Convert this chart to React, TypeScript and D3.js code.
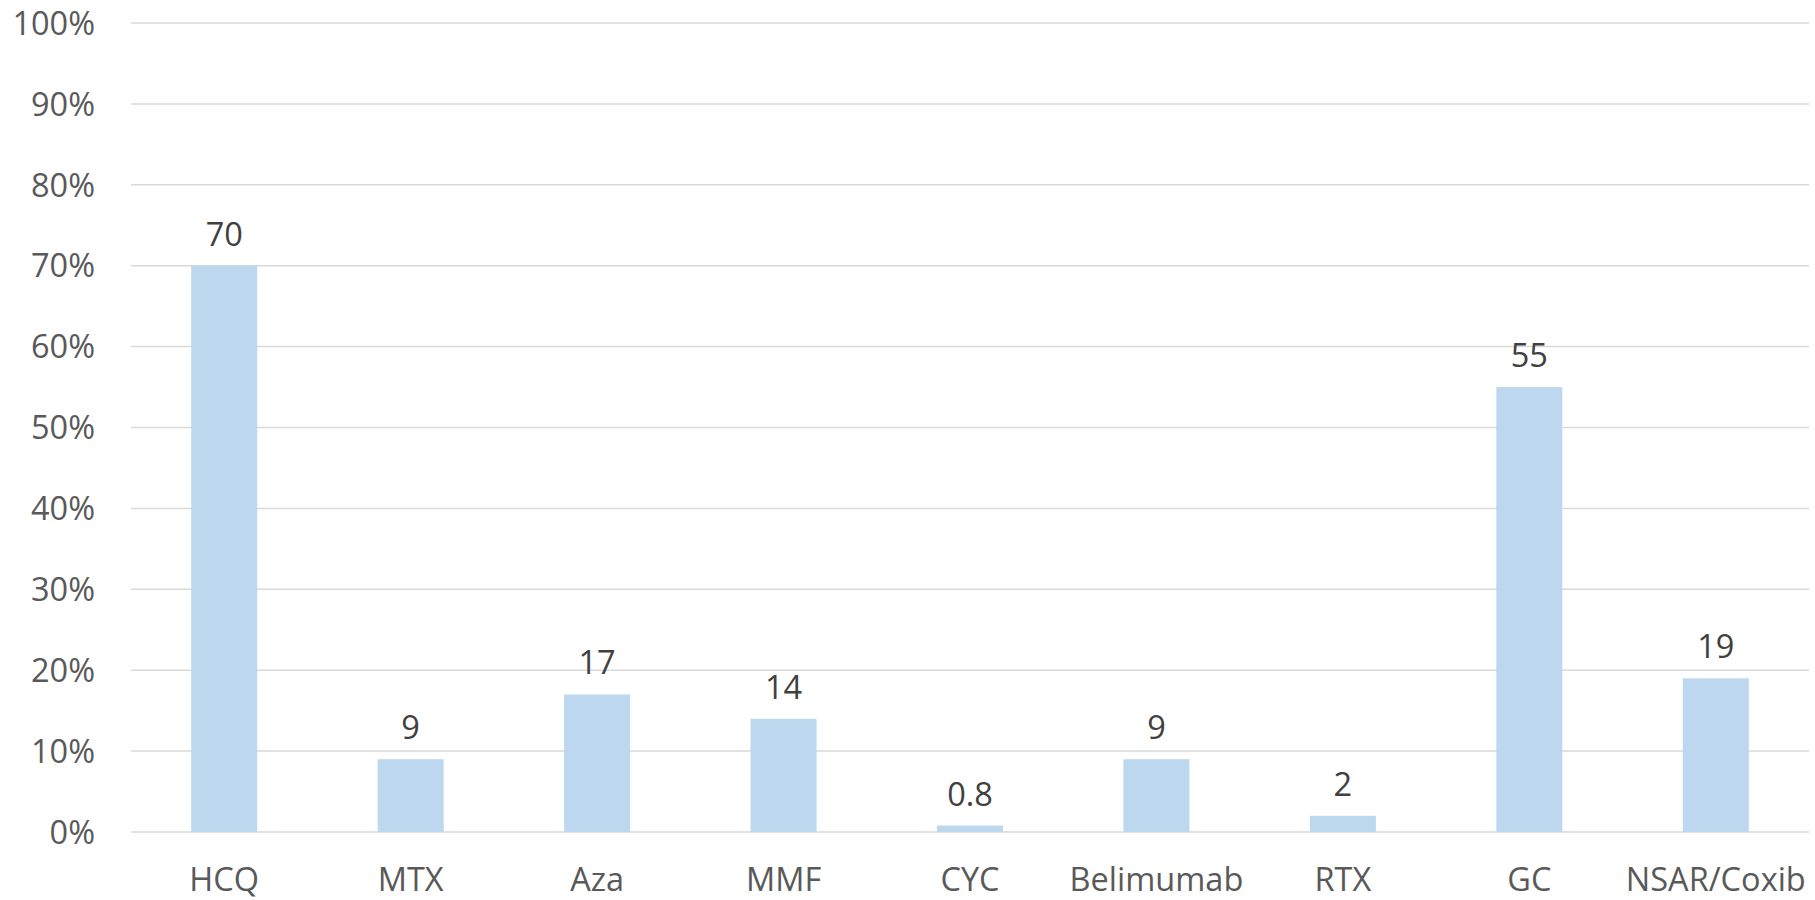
import React from "react";
import * as d3 from "d3";

const categories = ["HCQ", "MTX", "Aza", "MMF", "CYC", "Belimumab", "RTX", "GC", "NSAR/Coxib"];
const values = [70, 9, 17, 14, 0.8, 9, 2, 55, 19];
const valueLabels = ["70", "9", "17", "14", "0.8", "9", "2", "55", "19"];
const yTicks = [0, 10, 20, 30, 40, 50, 60, 70, 80, 90, 100];

const W = 1815;
const H = 900;
const margin = { left: 131, right: 6, top: 23, bottom: 68 };

export default function App() {
  const x = d3
    .scaleBand<string>()
    .domain(categories)
    .range([margin.left, W - margin.right])
    .paddingInner(0.646)
    .paddingOuter(0.323);
  const y = d3.scaleLinear().domain([0, 100]).range([H - margin.bottom, margin.top]);
  const font = "'Open Sans', 'Liberation Sans', sans-serif";
  const fs = 32.5;

  return (
    <svg
      width={W}
      height={H}
      style={{ position: "absolute", left: 0, top: 0, background: "#fff" }}
      fontFamily={font}
    >
      <g>
        {yTicks.map((t) => (
          <g key={t}>
            <line
              x1={margin.left}
              x2={W - margin.right}
              y1={y(t)}
              y2={y(t)}
              stroke="#d9d9d9"
              strokeWidth={1.5}
            />
            <text
              x={95}
              y={y(t)}
              dy="0.36em"
              textAnchor="end"
              fontSize={fs}
              fill="#595959"
            >
              {t}%
            </text>
          </g>
        ))}
      </g>
      <g>
        {categories.map((c, i) => (
          <g key={c}>
            <rect
              x={x(c)}
              y={y(values[i])}
              width={x.bandwidth()}
              height={y(0) - y(values[i])}
              fill="#bdd7ee"
            />
            <text
              x={(x(c) as number) + x.bandwidth() / 2}
              y={y(values[i]) - 20}
              textAnchor="middle"
              fontSize={fs}
              fill="#404040"
            >
              {valueLabels[i]}
            </text>
            <text
              x={(x(c) as number) + x.bandwidth() / 2}
              y={891}
              textAnchor="middle"
              fontSize={fs}
              fill="#595959"
            >
              {c}
            </text>
          </g>
        ))}
      </g>
    </svg>
  );
}
